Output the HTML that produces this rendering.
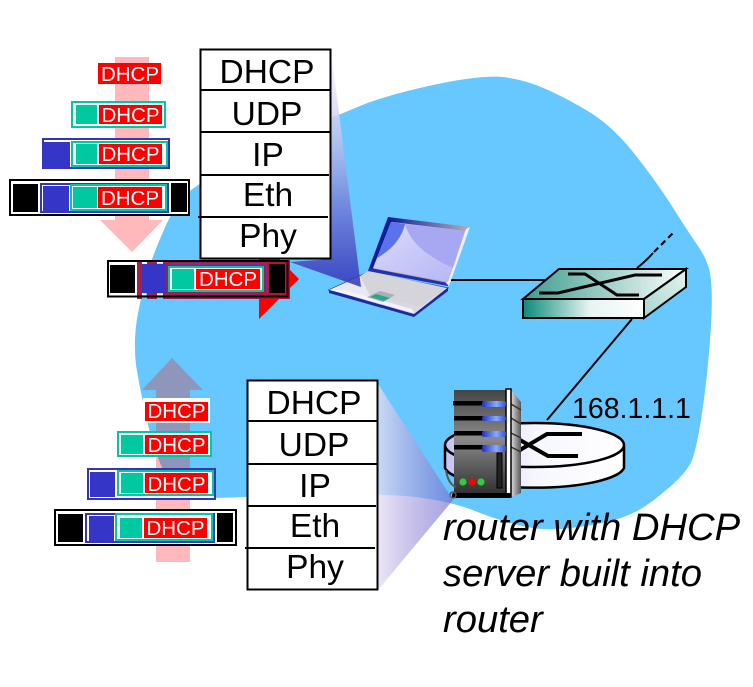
<!DOCTYPE html>
<html><head><meta charset="utf-8"><style>
html,body{margin:0;padding:0;background:#fff}
svg{display:block}
text{font-family:"Liberation Sans",sans-serif}
.s{font-size:33.5px;text-anchor:middle;fill:#000}
.d{font-size:20.5px;text-anchor:middle;fill:#fff}
.i{font-size:38.2px;font-style:italic;fill:#000}
.t{fill:#00c8a0}.b{fill:#3535c8}.r{fill:#f00}.w{fill:#fff}.k{fill:#000}
</style></head><body>
<svg width="753" height="687" viewBox="0 0 753 687" xmlns="http://www.w3.org/2000/svg">
<defs>
<clipPath id="blobc"><path d="M180,198 Q200,183 232,163 Q265,143 298,130 Q332,118 360,106 Q387,95 433,85 Q480,75 503,77 Q527,80 548,90 Q570,100 591,113 Q613,127 633,152 Q653,177 670,203 Q687,230 698,246 Q710,263 711,281 Q713,300 710,340 Q707,380 702,413 Q697,447 692,460 Q687,473 665,491 Q643,510 626,516 Q610,523 578,527 Q547,532 522,526 Q497,520 475,511 Q453,502 416,497 Q380,493 313,495 Q247,497 213,498 Q180,500 168,480 Q157,460 148,425 Q140,390 136,365 Q133,340 138,313 Q143,287 151,262 Q160,237 170,217 Z"/></clipPath>
<linearGradient id="wt" x1="0" y1="0" x2="0" y2="1"><stop offset="0" stop-color="#fff" stop-opacity=".9"/><stop offset=".35" stop-color="#c8c8f0" stop-opacity=".8"/><stop offset=".65" stop-color="#7484dc" stop-opacity=".9"/><stop offset="1" stop-color="#3232b8" stop-opacity=".85"/></linearGradient>
<linearGradient id="wb" x1="0" y1="0" x2="1" y2="0"><stop offset="0" stop-color="#e5def2" stop-opacity=".78"/><stop offset="1" stop-color="#7169cd" stop-opacity=".62"/></linearGradient>
<linearGradient id="swf" x1="0" y1="0" x2="1" y2="0"><stop offset="0" stop-color="#0a8a7a"/><stop offset=".55" stop-color="#e6f4f2"/><stop offset="1" stop-color="#fff"/></linearGradient>
<linearGradient id="swt" x1="0" y1="0" x2="1" y2="0"><stop offset="0" stop-color="#3c9c8e"/><stop offset="1" stop-color="#fff"/></linearGradient>
<linearGradient id="sws" x1="0" y1="1" x2="1" y2="0"><stop offset="0" stop-color="#a8d4ce"/><stop offset="1" stop-color="#e4f4f2"/></linearGradient>
<linearGradient id="srv" x1="0" y1="0" x2="0" y2="1"><stop offset="0" stop-color="#444"/><stop offset=".45" stop-color="#8a8a8a"/><stop offset="1" stop-color="#2a2a2a"/></linearGradient>
<linearGradient id="srs" x1="0" y1="0" x2="1" y2="0"><stop offset="0" stop-color="#ddd"/><stop offset="1" stop-color="#555"/></linearGradient>
<linearGradient id="slot" x1="0" y1="0" x2="1" y2="0"><stop offset="0" stop-color="#2030c0"/><stop offset=".6" stop-color="#8aaaff"/><stop offset="1" stop-color="#3050d0"/></linearGradient>
<linearGradient id="scr" x1="0" y1="0" x2="1" y2="1"><stop offset="0" stop-color="#dcdcfc"/><stop offset="1" stop-color="#b4b4f4"/></linearGradient>
<linearGradient id="rt" x1="0" y1="0" x2="1" y2="0"><stop offset="0" stop-color="#c4c4f0"/><stop offset=".5" stop-color="#f6f6ff"/><stop offset="1" stop-color="#fff"/></linearGradient>
<linearGradient id="ltop" x1="0" y1="0" x2="1" y2="0"><stop offset="0" stop-color="#0c1c9c"/><stop offset="1" stop-color="#b0b0b8"/></linearGradient>
</defs>

<!-- pink arrows (behind blob) -->
<polygon fill="#ffb9bd" points="115,57 149,57 149,220 163,220 132,252 100,220 115,220"/>
<polygon fill="#ffb9bd" points="156,562 190,562 190,390 203,390 172,358 142,390 156,390"/>

<!-- blob -->
<path fill="#66c8ff" d="M180,198 Q200,183 232,163 Q265,143 298,130 Q332,118 360,106 Q387,95 433,85 Q480,75 503,77 Q527,80 548,90 Q570,100 591,113 Q613,127 633,152 Q653,177 670,203 Q687,230 698,246 Q710,263 711,281 Q713,300 710,340 Q707,380 702,413 Q697,447 692,460 Q687,473 665,491 Q643,510 626,516 Q610,523 578,527 Q547,532 522,526 Q497,520 475,511 Q453,502 416,497 Q380,493 313,495 Q247,497 213,498 Q180,500 168,480 Q157,460 148,425 Q140,390 136,365 Q133,340 138,313 Q143,287 151,262 Q160,237 170,217 Z"/>
<g clip-path="url(#blobc)"><polygon fill="#8e96bb" points="156,562 190,562 190,390 203,390 172,358 142,390 156,390"/>
<polygon fill="#ffb9bd" points="115,57 149,57 149,220 163,220 132,252 100,220 115,220"/></g>

<!-- links -->
<line x1="448" y1="280" x2="550" y2="280" stroke="#000" stroke-width="2"/>
<line x1="632" y1="319" x2="547" y2="420" stroke="#000" stroke-width="2"/>
<path d="M637,268 Q646,261 653,253" fill="none" stroke="#000" stroke-width="2"/>
<path d="M654,252 L675,231" fill="none" stroke="#000" stroke-width="2.2" stroke-dasharray="6,4"/>

<!-- laptop -->
<polygon fill="#d8d8e4" stroke="#1a2a9a" stroke-width="1" points="329,290 368,272 448,288 414,315"/>
<polygon fill="#e8e8f0" points="329,290 360,276 372,300 352,296"/>
<polygon fill="#d4d4da" points="360,276 368,271 447,288 420,306 372,296"/>
<polygon fill="#f2f2f8" points="331,290 356,297 414,313 412,309 345,290"/>
<polygon fill="#a8b0b8" points="367,297 380,291 395,295 383,302"/>
<polygon fill="#26a88c" points="370,297 376,294 390,298 384,301"/>
<polygon fill="#1a2aa0" points="329,290 414,314 448,288 448,291 414,317 329,293"/>
<polygon fill="#a8a8ac" points="388,217 470,227 448,286 368,271"/>
<polygon fill="#0c1c9c" points="388,217 393,219 373,270 368,271"/>
<polygon fill="url(#ltop)" points="388,217 470,227 466,231 392,222"/>
<polygon fill="#2430b0" points="370,268 448,283 448,286 368,271"/>
<polygon fill="#eef" points="466,229 470,227 449,286 446,283"/>
<polygon fill="url(#scr)" points="391,222 465,231 448,282 373,268"/>
<path d="M391,222 L405,224 Q400,245 377,258 Z" fill="#5a72ea"/>
<path d="M405,224 Q412,250 453,268 L465,231 Z" fill="#a8a8f2"/>

<!-- switch -->
<polygon fill="url(#swt)" stroke="#000" stroke-width="2" points="523,299 559,269 686,269 644,299"/>
<polygon fill="url(#sws)" stroke="#000" stroke-width="2" points="644,299 686,269 686,287 644,318"/>
<rect x="523" y="299" width="121" height="19" fill="url(#swf)" stroke="#000" stroke-width="2"/>
<polyline fill="none" stroke="#000" stroke-width="3" points="568,274 585,274 617,295 639,295"/>
<polyline fill="none" stroke="#000" stroke-width="3" points="539,293 558,293 635,275 662,275"/>

<!-- router -->
<path d="M445,445 L445,468 A90,22 0 0 0 624,468 L624,445" fill="url(#rt)" stroke="#000" stroke-width="2.5"/>
<ellipse cx="534.5" cy="445" rx="89.5" ry="22" fill="url(#rt)" stroke="#000" stroke-width="2.5"/>
<polyline fill="none" stroke="#000" stroke-width="4" points="582,434 547,434 520,450"/>
<polyline fill="none" stroke="#000" stroke-width="4" points="578,456 548,456 520,440"/>

<!-- server -->
<polygon fill="url(#srs)" points="511,390 521,402 521,493 511,497"/>
<g stroke="#333" stroke-width="1.5" fill="none"><path d="M511,404 L521,410"/><path d="M511,418 L521,424"/><path d="M511,433 L521,438"/><path d="M511,447 L521,452"/></g>
<rect x="454" y="390" width="53" height="108" fill="url(#srv)"/>
<rect x="506" y="389" width="5" height="108" fill="#fff" stroke="#000" stroke-width="1.5"/>
<rect x="453" y="401" width="30" height="4.500" class="k"/><rect x="454" y="416" width="29" height="4.500" class="k"/><rect x="454" y="431" width="29" height="4.500" class="k"/><rect x="454" y="445" width="29" height="4.500" class="k"/>
<rect x="482" y="401" width="24" height="6" rx="2" fill="url(#slot)"/><rect x="482" y="416" width="24" height="5" rx="2" fill="url(#slot)"/><rect x="482" y="431" width="24" height="6" rx="2" fill="url(#slot)"/><rect x="482" y="445" width="24" height="7" rx="2" fill="url(#slot)"/>
<rect x="497" y="453" width="5" height="35" fill="#222" stroke="#000"/>
<circle cx="463" cy="482" r="3.6" fill="#2ecc40"/><circle cx="472" cy="482" r="3.6" fill="#f00"/><circle cx="481" cy="482" r="3.6" fill="#2ecc40"/>
<rect x="452" y="493" width="59" height="5" rx="2" class="k"/>
<path d="M446,470 Q448,484 456,487" fill="none" stroke="#555" stroke-width="2"/>
<circle cx="453" cy="495" r="3" fill="none" stroke="#555" stroke-width="1.5"/>

<!-- wedges -->
<polygon fill="url(#wt)" points="331,50 361,287 290,262 331,259"/>
<polygon fill="url(#wb)" points="378,384 453,500 378,590"/>

<!-- red horizontal arrow -->
<polygon class="r" points="259,239 299,279 259,319"/>
<rect x="137" y="260" width="5" height="39" fill="#a0204e"/>
<rect x="147" y="260" width="10" height="39" fill="#a0204e"/>
<rect x="163" y="260" width="100" height="39" fill="#96205a"/>
<rect x="262" y="260" width="28" height="39" fill="#c01030"/>

<!-- stacks -->
<rect x="200.500" y="49.500" width="130" height="209" fill="#fff" stroke="#000" stroke-width="2"/>
<g stroke="#000" stroke-width="2"><line x1="201" y1="90" x2="330" y2="90"/><line x1="201" y1="132" x2="330" y2="132"/><line x1="201" y1="175" x2="329" y2="175"/><line x1="198" y1="217" x2="328" y2="217"/></g>
<text class="s" x="267" y="83">DHCP</text><text class="s" x="267" y="125">UDP</text><text class="s" x="268" y="166">IP</text><text class="s" x="268" y="206">Eth</text><text class="s" x="268" y="247">Phy</text>

<rect x="247.500" y="380.500" width="130" height="209" fill="#fff" stroke="#000" stroke-width="2"/>
<g stroke="#000" stroke-width="2"><line x1="248" y1="421" x2="377" y2="421"/><line x1="248" y1="464" x2="377" y2="464"/><line x1="248" y1="506" x2="376" y2="506"/><line x1="245" y1="548" x2="375" y2="548"/></g>
<text class="s" x="314" y="414">DHCP</text><text class="s" x="314" y="456">UDP</text><text class="s" x="315" y="497">IP</text><text class="s" x="315" y="537">Eth</text><text class="s" x="315" y="578">Phy</text>

<!-- top rows -->
<rect x="98" y="63" width="63" height="21" class="r"/><text class="d" x="130" y="81">DHCP</text>

<rect x="71" y="101" width="95" height="27" class="t"/><rect x="73" y="103" width="91" height="23" class="w"/>
<rect x="76" y="105" width="21" height="19" class="t"/><rect x="99" y="105" width="63" height="19" class="r"/><text class="d" x="130.500" y="122">DHCP</text>

<rect x="42" y="138" width="128" height="31" fill="#3535b8"/><rect x="44" y="140" width="124" height="27" class="w"/>
<rect x="44" y="142" width="26" height="25" class="b"/>
<rect x="71" y="141" width="97" height="26" class="t"/><rect x="73" y="143" width="93" height="22" class="w"/>
<rect x="76" y="144" width="21" height="20" class="t"/><rect x="99" y="144" width="63" height="20" class="r"/><text class="d" x="130.500" y="161">DHCP</text>

<rect x="9" y="179" width="181" height="37" class="k"/><rect x="11" y="181" width="177" height="33" class="w"/>
<rect x="13" y="184" width="25" height="28" class="k"/><rect x="171" y="183" width="16" height="29" class="k"/>
<rect x="40" y="183" width="129" height="30" fill="#3535b8"/><rect x="42" y="185" width="125" height="26" class="w"/>
<rect x="43" y="186" width="26" height="25" class="b"/>
<rect x="70" y="184" width="97" height="27" class="t"/><rect x="72" y="186" width="93" height="23" class="w"/>
<rect x="73" y="187" width="24" height="21" class="t"/><rect x="98" y="187" width="64" height="21" class="r"/><text class="d" x="130" y="205">DHCP</text>

<!-- middle row -->
<rect x="108" y="261" width="179.500" height="35.500" fill="none" stroke="#000" stroke-width="2"/>
<rect x="110" y="265" width="25" height="28" class="k"/><rect x="269" y="264" width="16" height="29" class="k"/>
<rect x="142" y="264" width="24" height="29" class="b"/>
<rect x="168" y="266" width="96" height="26" class="t"/><rect x="170" y="268" width="92" height="22" class="w"/>
<rect x="172" y="269" width="22" height="20" class="t"/><rect x="196" y="269" width="64" height="20" class="r"/><text class="d" x="228" y="286">DHCP</text>
<rect x="170" y="263" width="97" height="1.500" fill="#5a3ab0"/>
<rect x="266" y="263" width="1.500" height="30" fill="#5a3ab0"/>
<g class="w"><rect x="142" y="262" width="4" height="1.500"/><rect x="157" y="262" width="6" height="1.500"/><rect x="142" y="293.500" width="4" height="1.500"/><rect x="157" y="293.500" width="6" height="1.500"/></g>

<!-- bottom rows -->
<rect x="143" y="398" width="67" height="25" class="w"/>
<rect x="145" y="402" width="63" height="19" class="r"/><text class="d" x="176.500" y="418">DHCP</text>

<rect x="117" y="431" width="95" height="26" class="t"/><rect x="119" y="433" width="91" height="22" class="w"/>
<rect x="121" y="435" width="22" height="19" class="t"/><rect x="145" y="435" width="63" height="19" class="r"/><text class="d" x="176.500" y="452">DHCP</text>

<rect x="87" y="468" width="129" height="32" fill="#3535b8"/><rect x="89" y="470" width="125" height="28" class="w"/>
<rect x="90" y="472" width="25" height="25" class="b"/>
<rect x="117" y="470" width="97" height="26" class="t"/><rect x="119" y="472" width="93" height="22" class="w"/>
<rect x="121" y="473" width="22" height="20" class="t"/><rect x="145" y="473" width="63" height="20" class="r"/><text class="d" x="176.500" y="491">DHCP</text>

<rect x="54" y="509" width="183" height="37" class="k"/><rect x="56" y="511" width="179" height="33" class="w"/>
<rect x="58" y="514" width="25" height="28" class="k"/><rect x="217" y="513" width="16" height="29" class="k"/>
<rect x="85" y="513" width="130" height="30" fill="#3535b8"/><rect x="87" y="515" width="126" height="26" class="w"/>
<rect x="89" y="516" width="25" height="25" class="b"/>
<rect x="115" y="513" width="98" height="28" class="t"/><rect x="117" y="515" width="94" height="24" class="w"/>
<rect x="120" y="518" width="22" height="20" class="t"/><rect x="144" y="518" width="63" height="20" class="r"/><text class="d" x="175.500" y="535">DHCP</text>

<!-- labels -->
<text x="572" y="418" font-size="28.500" fill="#000">168.1.1.1</text>
<text class="i" x="443" y="540">router with DHCP</text>
<text class="i" x="443" y="586">server built into</text>
<text class="i" x="443" y="632">router</text>
</svg>
</body></html>
